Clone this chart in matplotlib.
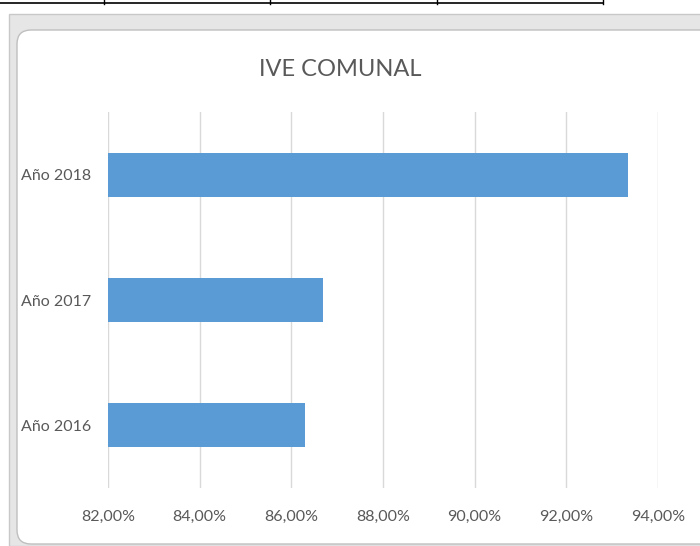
import matplotlib.pyplot as plt
from matplotlib.patches import FancyBboxPatch, Rectangle
from matplotlib.lines import Line2D
from matplotlib.ticker import FuncFormatter

# Data
years = ["Año 2016", "Año 2017", "Año 2018"]
ive_values = [86.3, 86.7, 93.35]
x_ticks = [82, 84, 86, 88, 90, 92, 94]

plt.rcParams["font.family"] = ["Lato", "DejaVu Sans"]
text_grey = "#595959"

fig = plt.figure(figsize=(7, 5.46), dpi=100)
W, H = 700, 546

def fx(px):
    return px / W

def fy(py):
    return 1 - py / H

# Screenshot decoration: table lines at the top
fig.add_artist(Line2D([0, fx(603)], [fy(3), fy(3)], color="black", lw=1.2, zorder=-2))
for xv in [104, 270, 437, 603]:
    fig.add_artist(Line2D([fx(xv), fx(xv)], [fy(0), fy(4)], color="black", lw=1, zorder=-2))

# Excel chart frame
fig.add_artist(Rectangle((fx(9), fy(546)), fx(700), 1 - 14 / H, facecolor="#e6e6e6",
                         edgecolor="#c8c8c8", lw=1, transform=fig.transFigure, zorder=-3))
fig.add_artist(FancyBboxPatch((fx(17), fy(544)), fx(700), (544 - 30) / H,
                              boxstyle="round,pad=0,rounding_size=0.02",
                              facecolor="white", edgecolor="#bfbfbf", lw=1,
                              transform=fig.transFigure, mutation_aspect=W / H, zorder=-2))

ax = fig.add_axes([fx(108), fy(488), fx(658) - fx(108), (488 - 112) / H])
ax.set_facecolor("none")
ax.set_zorder(5)

ax.barh(years, ive_values, height=0.35, color="#5b9bd5", zorder=3)

ax.set_xlim(82, 94)
ax.set_xticks(x_ticks)
ax.xaxis.set_major_formatter(FuncFormatter(lambda v, p: f"{v:.2f}".replace(".", ",") + "%"))
ax.set_ylim(-0.5, 2.5)

ax.grid(axis="x", color="#d9d9d9", lw=1, zorder=0)
for side in ["top", "right", "bottom", "left"]:
    ax.spines[side].set_visible(False)
ax.tick_params(axis="x", length=0, pad=16, labelsize=11.5, labelcolor=text_grey)
ax.tick_params(axis="y", length=0, pad=12, labelsize=11.5, labelcolor=text_grey)

fig.text(fx(340), fy(70), "IVE COMUNAL", ha="center", va="center",
         fontsize=17, color=text_grey, zorder=6)

fig.savefig("out.png", dpi=100)
